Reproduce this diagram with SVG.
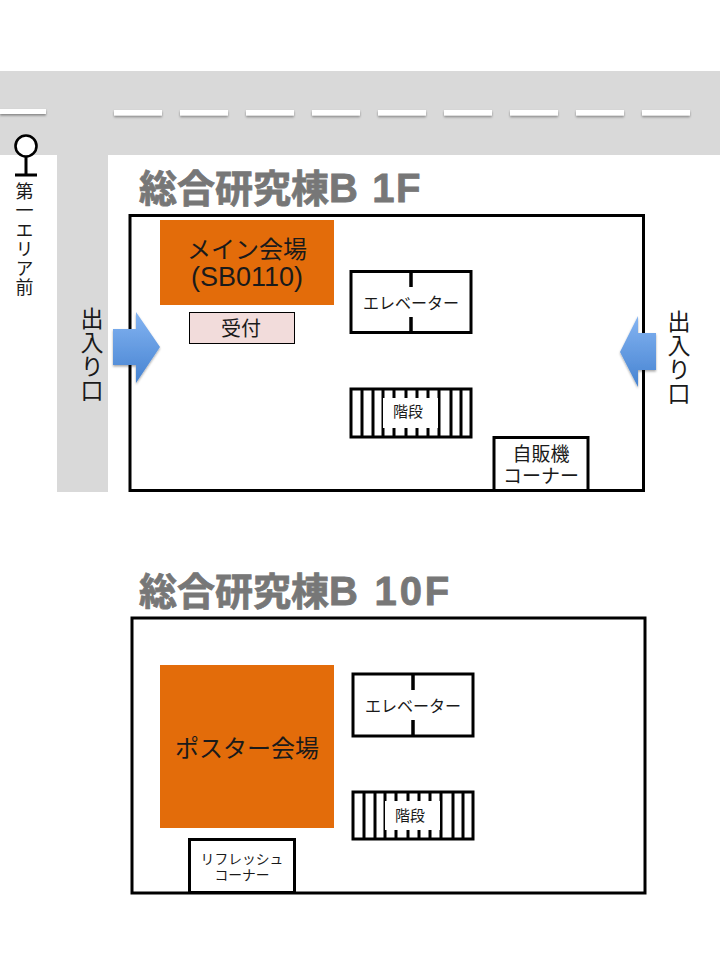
<svg xmlns="http://www.w3.org/2000/svg" width="720" height="960" viewBox="0 0 720 960">
<style>
text{font-family:"Liberation Sans","Noto Sans CJK JP",sans-serif;fill:#1a1a1a;text-anchor:middle}
.title{font-size:38px;font-weight:700;fill:#777;text-anchor:start;stroke:#777;stroke-width:.8px}
.title tspan{font-size:40px;letter-spacing:1.6px}
.title tspan.wide{letter-spacing:2.800px}
.road{fill:#d9d9d9}
.dash{fill:#fff;filter:url(#sh)}
.box{fill:#fff;stroke:#000;stroke-width:3}
.line{stroke:#000;stroke-width:3;fill:none}
.div{stroke:#000;stroke-width:3.500;fill:none}
.hall{fill:#e36c0a}
.v{writing-mode:vertical-rl}
.arrow{fill:url(#blue);filter:url(#sh2)}
</style>
<defs>
<linearGradient id="blue" x1="0" y1="0" x2="0" y2="1"><stop offset="0" stop-color="#84b4f2"/><stop offset="1" stop-color="#4683d1"/></linearGradient>
<filter id="sh" x="-10%" y="-50%" width="120%" height="220%"><feDropShadow dx="0" dy="1.5" stdDeviation="1" flood-color="#000" flood-opacity=".4"/></filter>
<filter id="sh2" x="-20%" y="-20%" width="140%" height="140%"><feDropShadow dx="0" dy="1.5" stdDeviation="1.2" flood-color="#000" flood-opacity=".35"/></filter>
<g id="stair-lines" class="line">
<path d="M11 0V48M22 0V48M32 0V48M43 0V48M55 0V48M66 0V48M77 0V48M88 0V48M100 0V48M110 0V48"/>
</g>
</defs>
<rect width="720" height="960" fill="#fff"/>
<g id="roads">
<rect class="road" x="0" y="71" width="720" height="84"/>
<rect class="road" x="57" y="155" width="51" height="337"/>
<g>
<rect class="dash" x="0" y="109" width="46" height="5"/>
<rect class="dash" x="114" y="110" width="48" height="5.500"/>
<rect class="dash" x="180" y="110" width="48" height="5.500"/>
<rect class="dash" x="246" y="110" width="48" height="5.500"/>
<rect class="dash" x="312" y="110" width="48" height="5.500"/>
<rect class="dash" x="378" y="110" width="48" height="5.500"/>
<rect class="dash" x="444" y="110" width="48" height="5.500"/>
<rect class="dash" x="510" y="110" width="48" height="5.500"/>
<rect class="dash" x="576" y="110" width="48" height="5.500"/>
<rect class="dash" x="642" y="110" width="48" height="5.500"/>
</g>
</g>
<g id="stop">
<circle cx="26" cy="146" r="10.500" fill="#fff" stroke="#000" stroke-width="2.600"/>
<path class="line" d="M26 157V175M15 175H37"/>
<text class="v" x="22.500" y="240" font-size="18" letter-spacing="1.200">第一エリア前</text>
</g>
<text class="title" x="139" y="202">総合研究棟<tspan>B 1F</tspan></text>
<g id="floor1">
<rect class="box" x="130" y="215.500" width="513.500" height="275"/>
</g>
<g id="hall1">
<rect class="hall" x="160" y="220" width="174" height="85"/>
<text x="247" y="258" font-size="24">メイン会場</text>
<text x="247" y="285.500" font-size="27">(SB0110)</text>
</g>
<g id="reception">
<rect x="189.500" y="312.500" width="105" height="31" fill="#f2dcdb" stroke="#000" stroke-width="1"/>
<text x="241" y="336" font-size="20">受付</text>
</g>
<g id="elevator1">
<rect class="box" x="351" y="271.500" width="120" height="61"/>
<path class="div" d="M411 271V287M411 317V333"/>
<text x="411" y="309" font-size="16">エレベーター</text>
</g>
<g id="stairs1">
<rect class="box" x="351" y="389" width="120" height="48"/>
<use href="#stair-lines" x="351" y="389"/>
<rect x="383" y="398" width="55" height="30" fill="#fff"/>
<text x="408" y="417" font-size="15">階段</text>
</g>
<g id="vending">
<rect class="box" x="494" y="437.500" width="94" height="53"/>
<text x="541" y="461" font-size="19">自販機</text>
<text x="541" y="483" font-size="19">コーナー</text>
</g>
<g id="arrow-left"><polygon class="arrow" points="113,329 136,329 136,312 160,347 136,383 136,365 113,365"/></g>
<g id="arrow-right"><polygon class="arrow" points="656,333 638,333 638,316 620,352 638,387 638,370 656,370"/></g>
<text class="v" x="90" y="354.500" font-size="23" letter-spacing="1">出入り口</text>
<text class="v" x="677" y="358" font-size="23" letter-spacing="1">出入り口</text>
<text class="title" x="139" y="605">総合研究棟<tspan class="wide">B 10F</tspan></text>
<g id="floor10">
<rect class="box" x="132" y="618" width="513" height="275"/>
</g>
<g id="hall10">
<rect class="hall" x="160" y="665" width="174" height="163"/>
<text x="247" y="757" font-size="24">ポスター会場</text>
</g>
<g id="elevator10">
<rect class="box" x="353" y="674" width="120" height="62"/>
<path class="div" d="M413 674V690M413 720V736"/>
<text x="413" y="712" font-size="16">エレベーター</text>
</g>
<g id="stairs10">
<rect class="box" x="353" y="792" width="120" height="47"/>
<use href="#stair-lines" x="353" y="792"/>
<rect x="385" y="801" width="55" height="29" fill="#fff"/>
<text x="410" y="821" font-size="15">階段</text>
</g>
<g id="refresh">
<rect class="box" x="189.500" y="839.500" width="105" height="53"/>
<text x="242" y="864" font-size="13.800">リフレッシュ</text>
<text x="242" y="880" font-size="13.800">コーナー</text>
</g>
</svg>
